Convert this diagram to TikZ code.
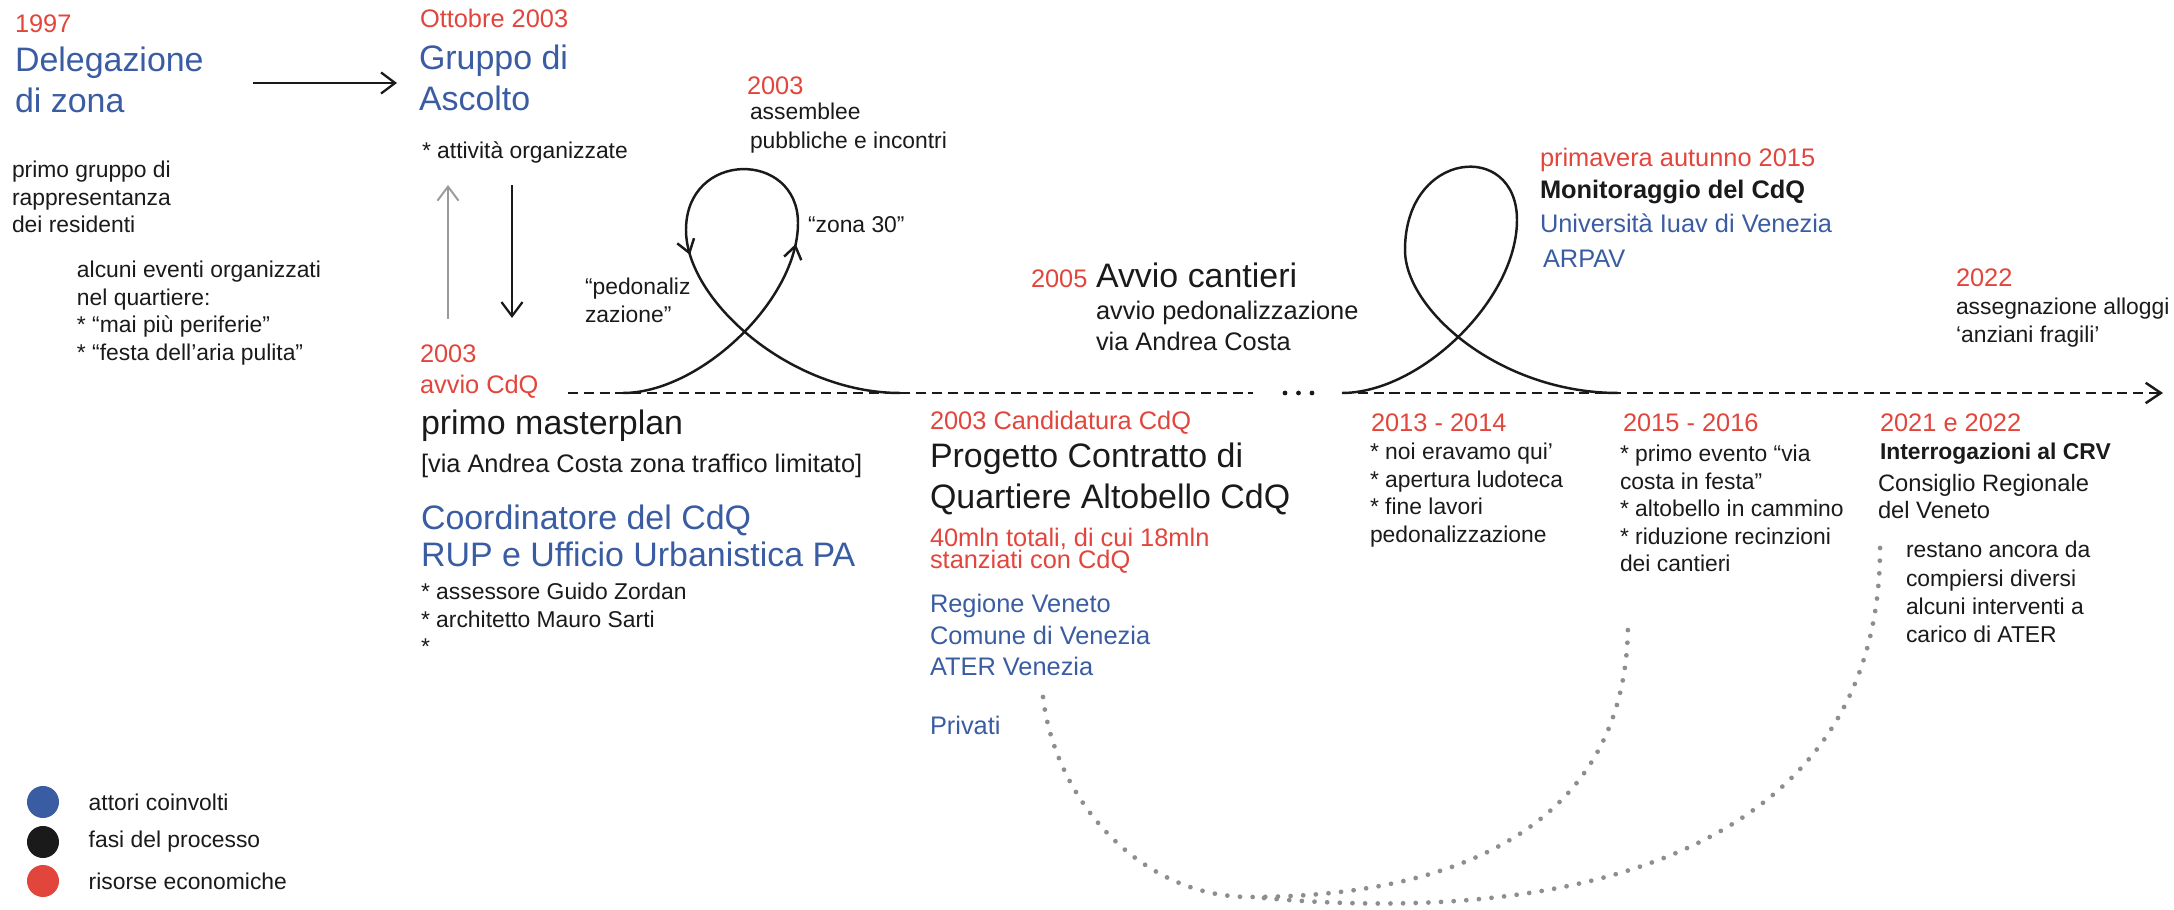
\documentclass[tikz,border=0pt]{standalone}
\usepackage{fontspec}
\setmainfont{Liberation Sans}
\usepackage{tikz}
\usetikzlibrary{positioning, arrows.meta, decorations.markings}

\definecolor{cdqred}{HTML}{E2453B}
\definecolor{cdqblue}{HTML}{3A5CA2}
\definecolor{ink}{HTML}{1A1A1A}
\definecolor{dotgray}{HTML}{8E8E8E}
\definecolor{arrgray}{HTML}{9A9A9A}

\newcommand{\fsm}{\fontsize{6.5pt}{7.82pt}\selectfont}
\newcommand{\fmd}{\fontsize{7.22pt}{8.6pt}\selectfont}
\newcommand{\fbg}{\fontsize{9.65pt}{11.38pt}\selectfont}
\newcommand{\txtrows}[1]{\begin{tabular}[t]{@{}l@{}}#1\end{tabular}}

\tikzset{
  txt/.style={inner sep=0pt, outer sep=0pt, anchor=base west, text=ink},
  sm/.style={txt, font=\fsm},
  md/.style={txt, font=\fmd},
  bg/.style={txt, font=\fbg},
  yr/.style={md, text=cdqred},
  actor/.style={text=cdqblue},
  arr/.style={-{Straight Barb[length=4pt,width=6pt]}, line width=0.65pt, draw=ink},
  timeline/.style={line width=0.7pt, draw=ink, dash pattern=on 2.85pt off 1.65pt},
  loopline/.style={line width=0.7pt, draw=ink},
  dotarc/.style={draw=dotgray, line width=1.35pt, line cap=round, dash pattern=on 0pt off 3.6pt},
  legdot/.style={circle, inner sep=0pt, minimum size=0.32cm},
}

\begin{document}
\begin{tikzpicture}[x=0.01cm, y=-0.01cm]
        \useasboundingbox (0,0) rectangle (2174,910);

        % Delegazione di zona (1997)
        \node[yr] (y1997) at (15,33) {1997};
        \node[bg, actor] (deleg) at (15,72) {\txtrows{Delegazione\\di zona}};
        \node[sm] (primo) at (12,178) {\txtrows{primo gruppo di\\rappresentanza\\dei residenti}};
        \node[sm] (eventi) at (77,278) {\txtrows{alcuni eventi organizzati\\nel quartiere:\\{}* “mai più periferie”\\{}* “festa dell’aria pulita”}};

        % Gruppo di Ascolto (2003)
        \node[yr] (yott) at (420,28) {Ottobre 2003};
        \node[bg, actor] (gruppo) at (419,70) {\txtrows{Gruppo di\\Ascolto}};
        \node[sm] (attiv) at (422,159) {* attività organizzate};
        \node[yr] (y2003) at (420,363) {\txtrows{2003\\avvio CdQ}};
        \node[bg] (master) at (421,435) {primo masterplan};
        \node[md] (ztl) at (421,473) {[via Andrea Costa zona traffico limitato]};
        \node[bg, actor, font=\fontsize{9.65pt}{10.5pt}\selectfont] (coord) at (421,530) {\txtrows{Coordinatore del CdQ\\RUP e Ufficio Urbanistica PA}};
        \node[sm] (assess) at (421,600) {\txtrows{* assessore Guido Zordan\\{}* architetto Mauro Sarti\\{}*}};

        % Arrows between the first blocks
        \draw[arr] ([shift={(238,11)}]deleg.base west) -- ([shift={(-22,13)}]gruppo.base west);
        \draw[arr, draw=arrgray, line width=0.55pt] ([shift={(28,-44)}]y2003.base west) -- ([shift={(26,26)}]attiv.base west);
        \draw[arr] ([shift={(90,26)}]attiv.base west) -- ([shift={(92,-45)}]y2003.base west);

        % Timeline
        \coordinate (t0) at (568,393);
        \coordinate (t1) at (1253,393);
        \coordinate (t2) at (1342,393);
        \coordinate (tend) at (2163,393);
        \draw[timeline] (t0) -- (t1);
        \foreach \k in {0,1,2}
          \fill[ink] (1285+13.5*\k,393) circle[radius=0.68pt];
        \draw[timeline, -{Straight Barb[length=4.3pt,width=5.8pt]}] (t2) -- (tend);

        % First loop (assemblee)
        \coordinate (l1a) at (623,393);
        \coordinate (l1b) at (900,393);
        \draw[loopline, postaction={decorate}, decoration={markings,
              mark=at position 0.33 with {\arrow{Straight Barb[length=3.6pt,width=5pt]}},
              mark=at position 0.638 with {\arrow{Straight Barb[length=3.6pt,width=5pt]}}}]
              (l1a) .. controls (700,393) and (798,300) .. (798,223)
              .. controls (798,150) and (686,150) .. (686,230)
              .. controls (686,300) and (790,393) .. (l1b);
        \node[sm] (pedon) at (585,295) {\txtrows{“pedonaliz\\zazione”}};
        \node[sm] (zona) at (808,233) {“zona 30”};
        \node[yr] (y2003b) at (747,95) {2003};
        \node[sm, font=\fontsize{6.5pt}{7.97pt}\selectfont] (assem) at (750,120) {\txtrows{assemblee\\pubbliche e incontri}};

        % Avvio cantieri (2005)
        \node[yr] (y2005) at (1031,288) {2005};
        \node[bg] (cant) at (1096,288) {Avvio cantieri};
        \node[md] (pedav) at (1096,320) {\txtrows{avvio pedonalizzazione\\via Andrea Costa}};

        % Candidatura CdQ
        \node[yr] (cand) at (930,430) {2003 Candidatura CdQ};
        \node[bg] (prog) at (930,468) {\txtrows{Progetto Contratto di\\Quartiere Altobello CdQ}};
        \node[yr] (mln) at (930,547) {\txtrows{40mln totali, di cui 18mln\\[-2.6pt]stanziati con CdQ}};
        \node[md, actor, font=\fontsize{7.22pt}{8.9pt}\selectfont] (enti) at (930,613) {\txtrows{Regione Veneto\\Comune di Venezia\\ATER Venezia}};
        \node[md, actor] (priv) at (930,735) {Privati};

        % 2013 - 2014
        \node[yr] (y1314) at (1371,432) {2013 - 2014};
        \node[sm] (b1314) at (1370,460) {\txtrows{* noi eravamo qui’\\{}* apertura ludoteca\\{}* fine lavori\\pedonalizzazione}};

        % Second loop (monitoraggio)
        \coordinate (l2a) at (1342,393);
        \coordinate (l2b) at (1618,393);
        \draw[loopline] (l2a) .. controls (1420,393) and (1517,300) .. (1517,220)
              .. controls (1517,140) and (1405,150) .. (1405,250)
              .. controls (1405,310) and (1500,393) .. (l2b);
        \node[yr] (y2015) at (1540,167) {primavera autunno 2015};
        \node[md, font=\fmd\bfseries] (monit) at (1540,199) {Monitoraggio del CdQ};
        \node[md, actor] (iuav) at (1540,233) {Università Iuav di Venezia};
        \node[md, actor] (arpav) at (1543,268) {ARPAV};

        % 2015 - 2016
        \node[yr] (y1516) at (1623,432) {2015 - 2016};
        \node[sm] (b1516) at (1620,462) {\txtrows{* primo evento “via\\costa in festa”\\{}* altobello in cammino\\{}* riduzione recinzioni\\dei cantieri}};

        % 2021 - 2022
        \node[yr] (y2022) at (1956,287) {2022};
        \node[sm] (allog) at (1956,315) {\txtrows{assegnazione alloggi\\‘anziani fragili’}};
        \node[yr] (y2122) at (1880,432) {2021 e 2022};
        \node[sm, font=\fsm\bfseries] (interr) at (1880,460) {Interrogazioni al CRV};
        \node[sm, font=\fontsize{6.75pt}{7.55pt}\selectfont] (crv) at (1878,492) {\txtrows{Consiglio Regionale\\del Veneto}};
        \node[sm, font=\fontsize{6.5pt}{7.97pt}\selectfont] (rest) at (1906,558) {\txtrows{restano ancora da\\compiersi diversi\\alcuni interventi a\\carico di ATER}};

        % Dotted arcs (resources)
        \coordinate (arcB) at (1264,898);
        \draw[dotarc] ([shift={(113,84)}]enti.base west) .. controls (1055,800) and (1140,897) .. (1250,897)
              .. controls (1450,897) and (1628,830) .. ([shift={(8,160)}]b1516.base west);
        \draw[dotarc] (arcB) .. controls (1560,925) and (1885,860) .. ([shift={(-26,-18)}]rest.base west);

        % Legend
        \node[legdot, fill=cdqblue] (lg1) at (43,802) {};
        \node[legdot, fill=ink] (lg2) at (43,842) {};
        \node[legdot, fill=cdqred] (lg3) at (43,881) {};
        \node[sm, anchor=west, right=0.29cm of lg1] (lt1) {attori coinvolti};
        \node[sm, anchor=west, right=0.29cm of lg2] (lt2) {fasi del processo};
        \node[sm, anchor=west, right=0.29cm of lg3] (lt3) {risorse economiche};

\end{tikzpicture}
\end{document}
